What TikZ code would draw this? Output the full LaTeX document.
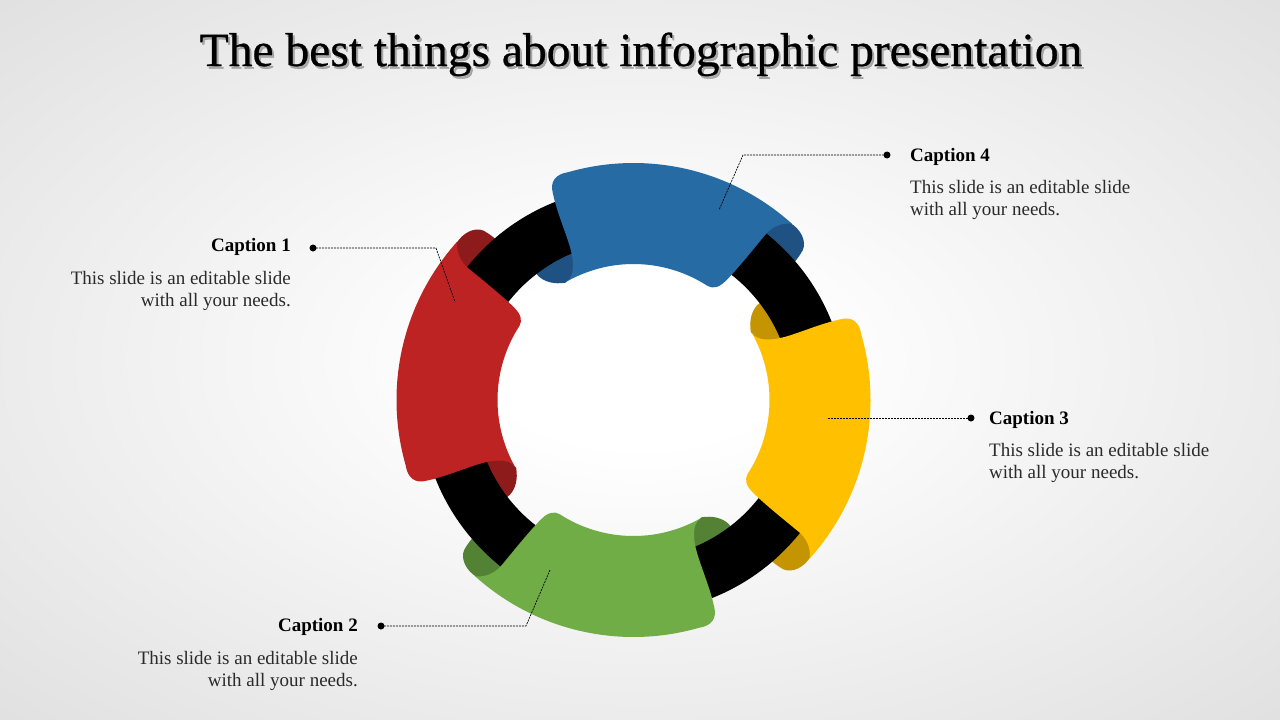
\documentclass[tikz,border=0pt]{standalone}
\usepackage{fontspec}
\setmainfont{Liberation Serif}
\newfontfamily\titlefam[FakeBold=0.6]{Liberation Serif}
\definecolor{ribblue}{HTML}{276BA5}
\definecolor{ribbluedk}{HTML}{1F5282}
\definecolor{ribred}{HTML}{BE2323}
\definecolor{ribreddk}{HTML}{8E1B1B}
\definecolor{ribyel}{HTML}{FFC000}
\definecolor{ribyeldk}{HTML}{C49500}
\definecolor{ribgrn}{HTML}{70AD47}
\definecolor{ribgrndk}{HTML}{548235}
\definecolor{bgmid}{HTML}{DCDCDC}
\definecolor{bgout}{HTML}{CCCCCC}
\definecolor{textgray}{HTML}{2A2A2A}
\pgfdeclareradialshading{bgshade}{\pgfpoint{0bp}{0bp}}{color(0bp)=(white); color(6bp)=(white); color(40bp)=(bgmid); color(72bp)=(bgout)}
\begin{document}
\begin{tikzpicture}[x=1pt,y=-1pt,
  captitle/.style={font=\fontsize{19}{22}\selectfont\bfseries, text=black, inner sep=0pt},
  capbody/.style={font=\fontsize{19}{22}\selectfont, text=textgray, inner sep=0pt},
  leader/.style={draw=black, line width=0.7pt, dash pattern=on 2pt off 1pt},
  dotnode/.style={circle, fill=black, inner sep=0pt, minimum size=7pt},
  titlefont/.style={font=\titlefam\fontsize{47.5}{57}\selectfont, inner sep=0pt}
]
\useasboundingbox (0,0) rectangle (1280,720);
\shade[shading=bgshade] (0,0) rectangle (1280,720);

% ring
\begin{scope}[shift={(633.5,400)}, yscale=-1]
  \foreach \ang/\col in {0/ribbluedk, 90/ribyeldk, 180/ribgrndk, -90/ribreddk}{
    \fill[\col, rotate=\ang] (56:205) -- (53:236) -- (48.5:236.5) .. controls (45.5:239) and (42.5:235) .. (41.5:226)
      .. controls (41:220) and (40.5:214) .. (40.5:205) -- cycle;
    \fill[\col, rotate=\ang] (108:165) -- (127.5:165) -- (127.5:156) .. controls (127:148) and (124.5:140) .. (120:135.5)
      -- (117:137.5) -- (110:150) -- cycle;
  }
  \fill[black, even odd rule] (0,0) circle[radius=213] (0,0) circle[radius=159];
  \foreach \ang/\col in {0/ribblue, 90/ribyel, 180/ribgrn, -90/ribred}{
    \fill[\col, rotate=\ang] (48:237) arc[start angle=48, end angle=106, radius=237]
      .. controls (109:239) and (111:234) .. (111.3:222)
      .. controls (112.2:203) and (112:180) .. (112.6:165)
      .. controls (113.2:150) and (115.5:137) .. (119.5:136)
      arc[start angle=119.5, end angle=57, radius=136]
      .. controls (54.5:136.5) and (52.8:141) .. (52.3:150)
      .. controls (51.5:165) and (51.5:200) .. (51.4:214)
      .. controls (51:226) and (49.5:233) .. (48:237) -- cycle;
  }
\end{scope}

% title
\node[titlefont, text=black!55, opacity=0.55, anchor=base] (titleshadow) at (643,68.5) {The best things about infographic presentation};
\node[titlefont, text=black, anchor=base] (title) at (641,66) {The best things about infographic presentation};

% captions
\node[captitle, anchor=base east] (cap1) at (291,251.5) {Caption 1};
\node[capbody, anchor=base east, align=right] (txt1) at (291,306) {This slide is an editable slide\\with all your needs.};
\node[captitle, anchor=base east] (cap2) at (358,631.5) {Caption 2};
\node[capbody, anchor=base east, align=right] (txt2) at (358,686) {This slide is an editable slide\\with all your needs.};
\node[captitle, anchor=base west] (cap3) at (989,424.5) {Caption 3};
\node[capbody, anchor=base west, align=left] (txt3) at (989,478) {This slide is an editable slide\\with all your needs.};
\node[captitle, anchor=base west] (cap4) at (910,161.5) {Caption 4};
\node[capbody, anchor=base west, align=left] (txt4) at (910,215) {This slide is an editable slide\\with all your needs.};

% leaders
\node[dotnode] (d1) at (313,248) {};
\coordinate (b1) at (436,248); \coordinate (e1) at (455,302);
\draw[leader] (d1.center) -- (b1) -- (e1);
\node[dotnode] (d2) at (381,626) {};
\coordinate (b2) at (526,626); \coordinate (e2) at (550,570);
\draw[leader] (d2.center) -- (b2) -- (e2);
\node[dotnode] (d3) at (971,418) {};
\coordinate (e3) at (827,418);
\draw[leader] (d3.center) -- (e3);
\node[dotnode] (d4) at (887,155) {};
\coordinate (b4) at (743,155); \coordinate (e4) at (719,210);
\draw[leader] (d4.center) -- (b4) -- (e4);
\end{tikzpicture}
\end{document}
